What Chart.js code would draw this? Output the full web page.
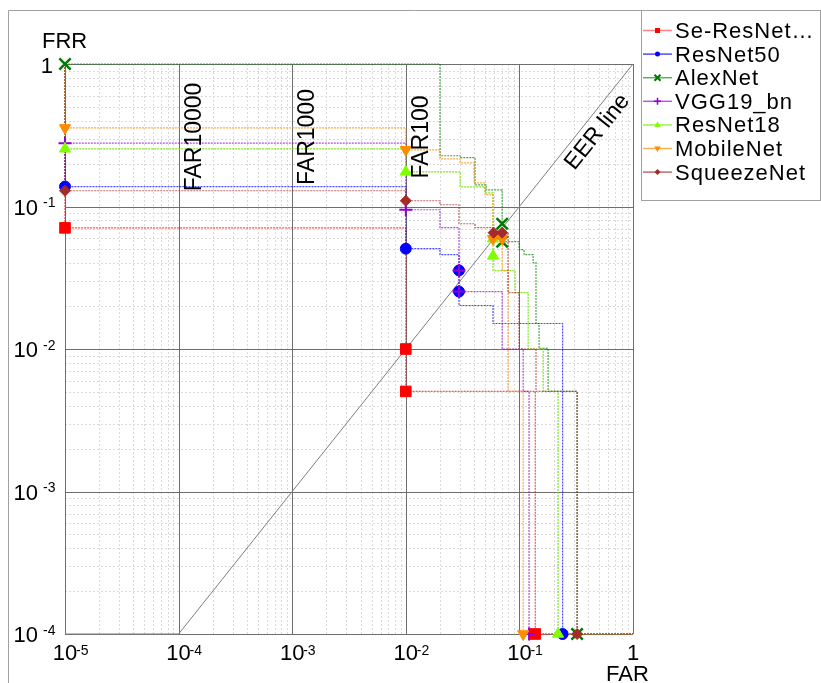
<!DOCTYPE html>
<html>
<head>
<meta charset="utf-8">
<script src="https://cdn.jsdelivr.net/npm/chart.js@4.4.1/dist/chart.umd.min.js"></script>
<style>
  html, body { margin: 0; padding: 0; background: #fff; }
  #wrap { position: relative; width: 821px; height: 683px; }
</style>
</head>
<body>
<div id="wrap"><canvas id="det"></canvas></div>
<script>
// legend names
const models = ['Se-ResNet…', 'ResNet50', 'AlexNet', 'VGG19_bn', 'ResNet18', 'MobileNet', 'SqueezeNet'];

// DET step curves as [FAR, FRR]
const seResNetCurve = [[1e-5, 1], [1e-5, 0.0708], [0.01, 0.00504], [0.138, 1e-4], [1, 1e-4]];
const resNet50Curve = [[1e-5, 1], [1e-5, 0.138], [0.01, 0.0506], [0.02, 0.0459], [0.0294, 0.0202], [0.0586, 0.0151], [0.24, 1e-4], [1, 1e-4]];
const alexNetCurve = [[1e-5, 1], [0.02, 0.227], [0.0301, 0.22], [0.0407, 0.142], [0.051, 0.131], [0.0705, 0.0566], [0.0993, 0.0498], [0.110, 0.0459], [0.132, 0.0404], [0.140, 0.0151], [0.149, 0.0101], [0.179, 0.00504], [0.322, 1e-4], [1, 1e-4]];
const vggCurve = [[1e-5, 1], [1e-5, 0.278], [0.01, 0.0949], [0.02, 0.071], [0.0294, 0.0253], [0.0705, 0.0100], [0.108, 0.00504], [0.1216, 1e-4], [1, 1e-4]];
const resNet18Curve = [[1e-5, 1], [1e-5, 0.254], [0.01, 0.175], [0.0301, 0.1375], [0.0499, 0.1248], [0.0586, 0.0355], [0.0916, 0.0249], [0.1194, 0.0100], [0.162, 0.00504], [0.219, 1e-4], [1, 1e-4]];
const mobileNetCurve = [[1e-5, 1], [1e-5, 0.356], [0.01, 0.25], [0.02, 0.216], [0.0301, 0.2025], [0.0399, 0.1466], [0.0499, 0.121], [0.0586, 0.0594], [0.0705, 0.0355], [0.0794, 0.00504], [0.108, 1e-4], [1, 1e-4]];
const squeezeNetCurve = [[1e-5, 1], [1e-5, 0.129], [0.01, 0.1097], [0.02, 0.1029], [0.0294, 0.0757], [0.0407, 0.071], [0.0593, 0.0655], [0.0794, 0.0249], [0.0993, 0.0100], [0.140, 0.00504], [0.322, 1e-4], [1, 1e-4]];

// operating points marked on each curve
const seResNetMarks = [[1e-5, 0.0708], [0.01, 0.01], [0.01, 0.00504], [0.138, 1e-4]];
const resNet50Marks = [[1e-5, 0.138], [0.01, 0.0506], [0.0294, 0.0356], [0.0294, 0.0253], [0.24, 1e-4]];
const alexNetMarks = [[1e-5, 1], [0.0705, 0.0757], [0.0705, 0.0566], [0.322, 1e-4]];
const vggMarks = [[1e-5, 0.278], [0.01, 0.0949], [0.0294, 0.0356], [0.0294, 0.0253], [0.1216, 1e-4]];
const resNet18Marks = [[1e-5, 0.254], [0.01, 0.175], [0.0586, 0.0594], [0.0586, 0.045], [0.219, 1e-4]];
const mobileNetMarks = [[1e-5, 0.356], [0.01, 0.25], [0.0586, 0.0594], [0.0705, 0.0594], [0.108, 1e-4]];
const squeezeNetMarks = [[1e-5, 0.129], [0.01, 0.1097], [0.0593, 0.0655], [0.0705, 0.0655], [0.322, 1e-4]];

const eerLine = [[1e-5, 1e-4], [1e-4, 1e-4], [1, 1]];

const farTicks = [1e-5, 1e-4, 1e-3, 1e-2, 1e-1, 1];
const farTickExp = ['-5', '-4', '-3', '-2', '-1', ''];
const frrTicks = [1, 1e-1, 1e-2, 1e-3, 1e-4];
const frrTickExp = ['', '-1', '-2', '-3', '-4'];
const minorSteps = [2, 3, 4, 5, 6, 7, 8, 9];

const farRefs = [1e-4, 1e-3, 1e-2];
const farRefLabels = ['FAR10000', 'FAR1000', 'FAR100'];
const eerLabel = 'EER line';
const eerLabelAt = 0.386;

const curves = [seResNetCurve, resNet50Curve, alexNetCurve, vggCurve, resNet18Curve, mobileNetCurve, squeezeNetCurve];
const marks = [seResNetMarks, resNet50Marks, alexNetMarks, vggMarks, resNet18Marks, mobileNetMarks, squeezeNetMarks];

// styles
const markColor = ['#ff0000', '#0000ff', '#007a00', '#9400d3', '#7fff00', '#ff8c00', '#a52a2a'];
const lineColor = ['rgba(255,0,0,0.7)', 'rgba(0,0,255,0.7)', 'rgba(0,128,0,0.7)', 'rgba(148,0,211,0.7)',
                   'rgba(110,230,0,0.9)', 'rgba(255,140,0,0.75)', 'rgba(165,42,42,0.7)'];
const legendLine = ['#ff8080', '#4d4dff', '#5fae5f', '#b05ee0', '#9cf04a', '#ffb04d', '#c86a6a'];
const markStyle = ['rect', 'circle', 'crossRot', 'cross', 'triangle', 'triangle', 'rectRot'];
const markRotation = [0, 0, 0, 0, 0, 180, 0];
const markRadius = [7.5, 5.5, 8, 6.5, 6.5, 6.5, 5.5];
const markBorder = [1, 1, 2.5, 2, 1, 1, 1];

const FONT = '"Liberation Sans", Arial, Helvetica, sans-serif';

const toXY = arr => arr.map(([x, y]) => ({ x, y }));

const datasets = [];
curves.forEach((c, i) => {
    datasets.push({
        label: models[i],
        data: toXY(c),
        showLine: true,
        stepped: 'before',
        borderColor: lineColor[i],
        borderWidth: 1.2,
        borderDash: [2, 1],
        pointRadius: 0,
        clip: false,
        order: 30 - i
    });
});
marks.forEach((m, i) => {
    datasets.push({
        label: models[i] + ' marks',
        data: toXY(m),
        showLine: false,
        pointStyle: markStyle[i],
        pointRotation: markRotation[i],
        pointRadius: markRadius[i],
        pointBackgroundColor: markColor[i],
        pointBorderColor: markColor[i],
        pointBorderWidth: markBorder[i],
        clip: false,
        order: 10 - i
    });
});
datasets.push({
    label: 'EER',
    data: toXY(eerLine),
    showLine: true,
    borderColor: '#7d7d7d',
    borderWidth: 1,
    pointRadius: 0,
    clip: false,
    order: 50
});

// small marker for the legend
function legendMark(ctx, i, x, y) {
    const c = markColor[i];
    ctx.save();
    ctx.fillStyle = c;
    ctx.strokeStyle = c;
    ctx.beginPath();
    switch (markStyle[i]) {
        case 'rect': ctx.fillRect(x - 2.5, y - 2.5, 5, 5); break;
        case 'circle': ctx.arc(x, y, 2.5, 0, Math.PI * 2); ctx.fill(); break;
        case 'crossRot':
            ctx.lineWidth = 2;
            ctx.moveTo(x - 3, y - 3); ctx.lineTo(x + 3, y + 3);
            ctx.moveTo(x + 3, y - 3); ctx.lineTo(x - 3, y + 3); ctx.stroke(); break;
        case 'cross':
            ctx.lineWidth = 1.5;
            ctx.moveTo(x - 3.5, y); ctx.lineTo(x + 3.5, y);
            ctx.moveTo(x, y - 3.5); ctx.lineTo(x, y + 3.5); ctx.stroke(); break;
        case 'triangle': {
            const s = markRotation[i] ? -1 : 1;
            ctx.moveTo(x, y - 3.5 * s); ctx.lineTo(x + 3.2, y + 2 * s); ctx.lineTo(x - 3.2, y + 2 * s);
            ctx.closePath(); ctx.fill(); break;
        }
        case 'rectRot':
            ctx.moveTo(x, y - 3); ctx.lineTo(x + 3, y); ctx.lineTo(x, y + 3); ctx.lineTo(x - 3, y);
            ctx.closePath(); ctx.fill(); break;
    }
    ctx.restore();
}

const decor = {
    id: 'decor',
    beforeDatasetsDraw(chart) {
        const { ctx, chartArea: a, scales: { x, y } } = chart;
        ctx.save();
        ctx.lineWidth = 1;

        // outer frame
        ctx.strokeStyle = '#a0a0a0';
        ctx.beginPath();
        ctx.moveTo(8.5, 683); ctx.lineTo(8.5, 10.5); ctx.lineTo(821, 10.5);
        ctx.stroke();

        // minor grid
        ctx.strokeStyle = '#dadada';
        ctx.setLineDash([2, 2]);
        ctx.beginPath();
        farTicks.slice(0, -1).forEach(d => minorSteps.forEach(m => {
            const px = Math.round(x.getPixelForValue(d * m)) + 0.5;
            ctx.moveTo(px, a.top); ctx.lineTo(px, a.bottom);
        }));
        frrTicks.slice(1).forEach(d => minorSteps.forEach(m => {
            const py = Math.round(y.getPixelForValue(d * m)) + 0.5;
            ctx.moveTo(a.left, py); ctx.lineTo(a.right, py);
        }));
        ctx.stroke();

        // decades and frame of the plot
        ctx.setLineDash([]);
        ctx.strokeStyle = '#6e6e6e';
        ctx.beginPath();
        farTicks.forEach(v => {
            const px = Math.round(x.getPixelForValue(v)) + 0.5;
            ctx.moveTo(px, a.top); ctx.lineTo(px, a.bottom);
        });
        frrTicks.forEach(v => {
            const py = Math.round(y.getPixelForValue(v)) + 0.5;
            ctx.moveTo(a.left, py); ctx.lineTo(a.right, py);
        });
        ctx.stroke();
        ctx.restore();
    },
    afterDraw(chart) {
        const { ctx, scales: { x, y } } = chart;
        ctx.save();
        ctx.fillStyle = '#000';
        ctx.textBaseline = 'alphabetic';

        // x tick labels
        farTicks.forEach((v, i) => {
            const px = x.getPixelForValue(v);
            ctx.font = '22px ' + FONT; ctx.textAlign = 'center';
            if (!farTickExp[i]) {
                ctx.fillText('1', px, 660);
                return;
            }
            ctx.fillText('10', px, 660);
            ctx.font = '14px ' + FONT; ctx.textAlign = 'left';
            ctx.fillText(farTickExp[i], px + 11, 655);
        });

        // y tick labels
        frrTicks.forEach((v, i) => {
            const py = y.getPixelForValue(v);
            ctx.font = '22px ' + FONT; ctx.textAlign = 'right';
            if (!frrTickExp[i]) {
                ctx.fillText('1', 53, py + 8.5);
                return;
            }
            ctx.fillText('10', 38, py + 8);
            ctx.font = '14px ' + FONT; ctx.textAlign = 'left';
            ctx.fillText(frrTickExp[i], 43, py + 0.5);
        });

        // axis titles
        ctx.font = '22px ' + FONT; ctx.textAlign = 'left';
        ctx.fillText('FRR', 42, 48);
        ctx.fillText('FAR', 606, 681);

        // FAR reference labels
        ctx.font = '23px ' + FONT; ctx.textAlign = 'center';
        farRefs.forEach((v, i) => {
            const px = x.getPixelForValue(v);
            ctx.save();
            ctx.translate(px + 22, 137);
            ctx.rotate(-Math.PI / 2);
            ctx.fillText(farRefLabels[i], 0, 0);
            ctx.restore();
        });

        // EER line label, along the diagonal
        const x0 = x.getPixelForValue(1e-4), y0 = y.getPixelForValue(1e-4);
        const x1 = x.getPixelForValue(1), y1 = y.getPixelForValue(1);
        const ang = Math.atan2(y1 - y0, x1 - x0);
        ctx.save();
        ctx.translate(x.getPixelForValue(eerLabelAt), y.getPixelForValue(eerLabelAt));
        ctx.rotate(ang);
        ctx.font = '23px ' + FONT; ctx.textAlign = 'center';
        ctx.fillText(eerLabel, 0, 21);
        ctx.restore();

        // legend
        ctx.strokeStyle = '#a0a0a0'; ctx.lineWidth = 1;
        ctx.strokeRect(641.5, 10.5, 179, 190);
        ctx.font = '22px ' + FONT; ctx.textAlign = 'left';
        ctx.letterSpacing = '1px';
        models.forEach((name, i) => {
            const cy = 30 + i * 23.6;
            ctx.strokeStyle = legendLine[i];
            ctx.lineWidth = 1.5;
            ctx.beginPath(); ctx.moveTo(643, cy + 0.5); ctx.lineTo(672, cy + 0.5); ctx.stroke();
            legendMark(ctx, i, 657.5, cy + 0.5);
            ctx.fillStyle = '#000';
            ctx.fillText(name, 675, cy + 8);
        });
        ctx.restore();
    }
};

new Chart(document.getElementById('det'), {
    type: 'scatter',
    data: { datasets },
    options: {
        responsive: true,
        maintainAspectRatio: false,
        animation: false,
        events: [],
        layout: { padding: { left: 65, top: 64, right: 188, bottom: 49 } },
        scales: {
            x: { type: 'logarithmic', min: 1e-5, max: 1, display: false },
            y: { type: 'logarithmic', min: 1e-4, max: 1, display: false }
        },
        plugins: {
            legend: { display: false },
            tooltip: { enabled: false }
        }
    },
    plugins: [decor]
});
</script>
</body>
</html>
